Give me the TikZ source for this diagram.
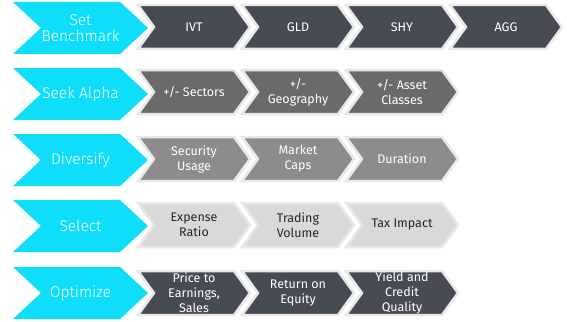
\documentclass[tikz,border=0pt]{standalone}
\usepackage{fontspec}
\setmainfont{Fira Sans}
\newfontfamily\stagefont{Fira Sans}[UprightFont=* Light]
\usetikzlibrary{shapes.symbols}
\definecolor{stepcyan}{RGB}{14,222,250}
\definecolor{darkslate}{RGB}{71,76,84}
\definecolor{midgray}{RGB}{106,106,106}
\definecolor{softgray}{RGB}{140,140,140}
\definecolor{palegray}{RGB}{217,217,217}
\definecolor{rimgray}{RGB}{232,232,232}

\begin{document}
\begin{tikzpicture}[x=1pt, y=-1pt,
    stage/.style={shape=signal, signal from=west, signal to=east, signal pointer angle=86,
                  fill=stepcyan, minimum width=135pt, minimum height=52pt, inner sep=0pt,
                  text=white, align=center, font=\stagefont\fontsize{15.5}{16}\selectfont},
    item/.style={shape=signal, signal from=west, signal to=east, signal pointer angle=108,
                 draw=rimgray, line width=2.5pt, minimum width=112pt, minimum height=44pt,
                 inner sep=0pt, text=white, align=center, font=\fontsize{12.5}{15}\selectfont}
  ]
  \useasboundingbox (0,0) rectangle (567,321);

  % benchmark row
  \node[stage] (bench) at (80.5,28) {Set\\Benchmark};
  \node[item, fill=darkslate] (ivt) at (194,27) {IVT};
  \node[item, fill=darkslate] (gld) at (298,27) {GLD};
  \node[item, fill=darkslate] (shy) at (402,27) {SHY};
  \node[item, fill=darkslate] (agg) at (506,27) {AGG};

  % alpha row
  \node[stage] (alpha) at (80.5,94) {Seek Alpha};
  \node[item, fill=midgray] (sectors) at (194,92) {+/- Sectors};
  \node[item, fill=midgray] (geo) at (298,92) {+/-\\Geography};
  \node[item, fill=midgray] (classes) at (402,92) {+/- Asset\\Classes};

  % diversify row
  \node[stage] (divers) at (80.5,160) {Diversify};
  \node[item, fill=softgray] (usage) at (194,159) {Security\\Usage};
  \node[item, fill=softgray] (caps) at (298,159) {Market\\Caps};
  \node[item, fill=softgray] (dur) at (402,159) {Duration};

  % select row
  \node[stage] (select) at (80.5,226) {Select};
  \node[item, fill=palegray, text=black!85] (expense) at (194,225) {Expense\\Ratio};
  \node[item, fill=palegray, text=black!85] (volume) at (298,225) {Trading\\Volume};
  \node[item, fill=palegray, text=black!85] (tax) at (402,225) {Tax Impact};

  % optimize row
  \node[stage] (optim) at (80.5,293) {Optimize};
  \node[item, fill=darkslate] (pe) at (194,293) {Price to\\Earnings,\\Sales};
  \node[item, fill=darkslate] (roe) at (298,293) {Return on\\Equity};
  \node[item, fill=darkslate] (yield) at (402,293) {Yield and\\Credit\\Quality};
\end{tikzpicture}
\end{document}
